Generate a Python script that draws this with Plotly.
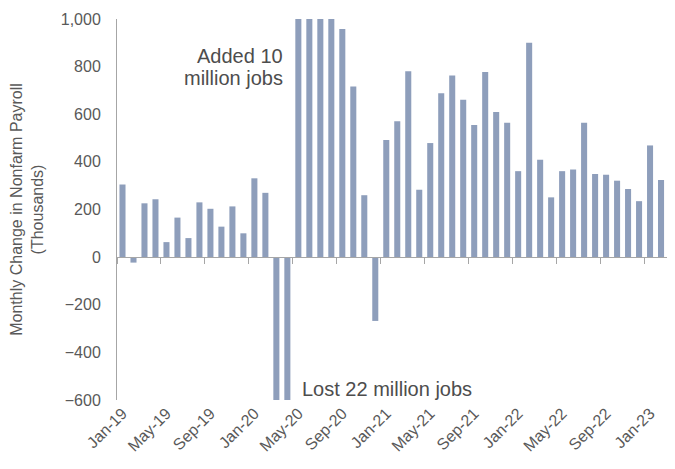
import plotly.graph_objects as go

months = ["Jan","Feb","Mar","Apr","May","Jun","Jul","Aug","Sep","Oct","Nov","Dec"]
categories = [f"{m}-{y:02d}" for y in range(19, 24) for m in months][:51]

values = [
    305, -23, 226, 243, 63, 166, 80, 230, 203, 128, 213, 100,      # 2019
    331, 270, -1373, -20500, 2700, 4500, 1700, 1500, 958, 717, 260, -268,  # 2020
    492, 571, 781, 283, 479, 688, 763, 661, 555, 777, 609, 564,    # 2021
    361, 900, 409, 251, 361, 368, 564, 349, 346, 321, 286, 235,    # 2022
    469, 324, 231,                                                  # 2023
]

tick_idx = list(range(0, 51, 4))
tick_labels = [categories[i] for i in tick_idx]
boundary_ticks = [i - 0.5 for i in tick_idx]
y_ticks = list(range(-600, 1001, 200))

bar_color = "#8E9EBB"
axis_color = "#A6A6A6"
text_color = "#595959"
font_family = "Liberation Sans, Arial, sans-serif"
x_idx = list(range(len(values)))

fig = go.Figure()
fig.add_trace(go.Bar(
    x=x_idx, y=values,
    marker=dict(color=bar_color, line=dict(width=0)),
    showlegend=False,
))
# same series on the overlaying axis that carries the zero line and boundary ticks
fig.add_trace(go.Bar(
    x=x_idx, y=values, xaxis="x2", yaxis="y",
    marker=dict(color=bar_color, line=dict(width=0)), opacity=0,
    hoverinfo="skip", showlegend=False,
))

xr = [-0.5, 50.27]
fig.update_layout(
    width=667, height=453,
    margin=dict(l=109, r=0, t=11, b=61),
    paper_bgcolor="white", plot_bgcolor="white",
    font=dict(family=font_family, color=text_color),
    bargap=0.45,
    xaxis=dict(
        range=xr, tickvals=tick_idx, ticktext=tick_labels, tickangle=-45,
        showline=False, showgrid=False, zeroline=False, ticks="",
        tickfont=dict(size=16, color=text_color), automargin=False,
    ),
    xaxis2=dict(
        overlaying="x", anchor="free", position=0.375, range=xr,
        tickvals=boundary_ticks, showticklabels=False,
        ticks="outside", ticklen=6, tickcolor=axis_color, tickwidth=1,
        showline=True, linecolor=axis_color, linewidth=1,
        showgrid=False, zeroline=False, automargin=False,
    ),
    yaxis=dict(
        range=[-600, 1000], tickvals=y_ticks, tickformat=",",
        showline=True, linecolor=axis_color, linewidth=1,
        showgrid=False, zeroline=False, ticks="",
        ticklabelstandoff=12, automargin=False,
        tickfont=dict(size=16, color=text_color),
        title=dict(text="Monthly Change in Nonfarm Payroll<br>(Thousands)",
                   font=dict(size=16, color=text_color), standoff=14),
    ),
    annotations=[
        dict(x=14.75, y=845, xref="x", yref="y", text="Added 10", showarrow=False,
             xanchor="right", yanchor="middle", font=dict(size=20, color="#4D4D4D")),
        dict(x=14.75, y=752, xref="x", yref="y", text="million jobs", showarrow=False,
             xanchor="right", yanchor="middle", font=dict(size=20, color="#4D4D4D")),
        dict(x=16.18, y=-555, xref="x", yref="y", text="Lost 22 million jobs", showarrow=False,
             xanchor="left", yanchor="middle", font=dict(size=20, color="#4D4D4D")),
    ],
)

fig.write_html("out.html")
